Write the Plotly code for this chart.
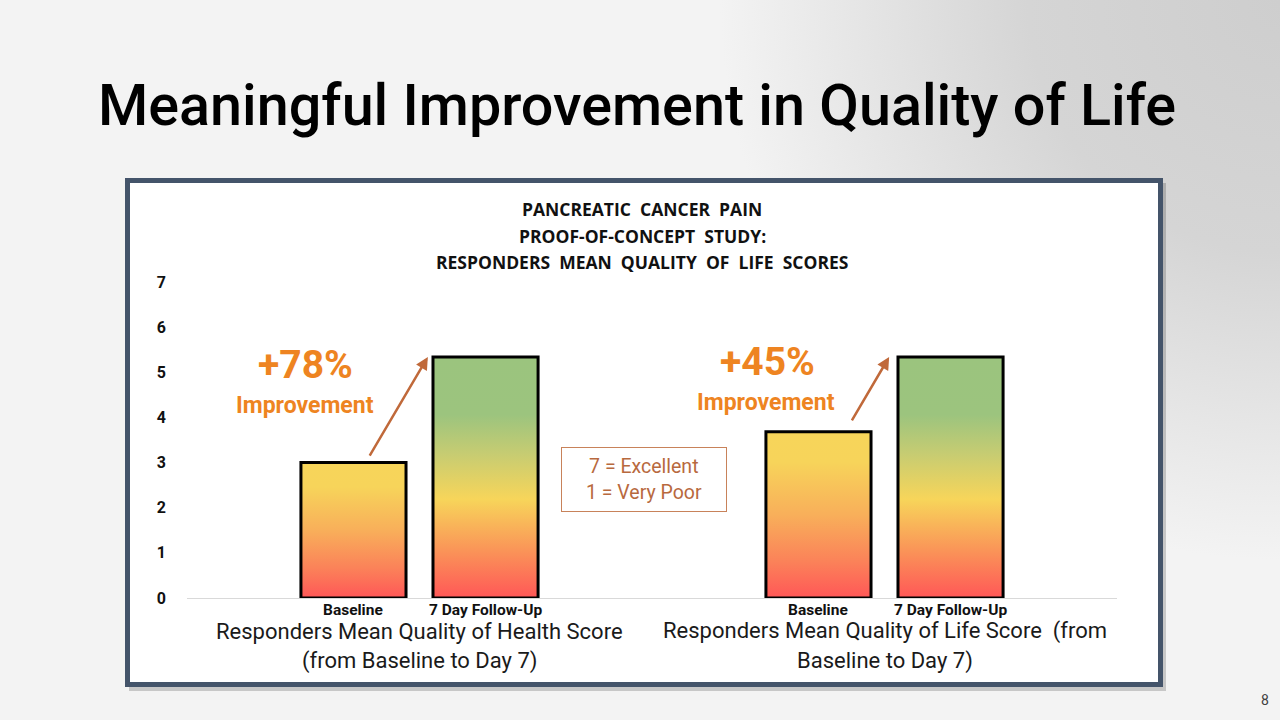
import base64
import plotly.graph_objects as go

# ---------------- data ----------------
slide_title = "Meaningful Improvement in Quality of Life"
chart_title_lines = ["PANCREATIC  CANCER  PAIN", "PROOF-OF-CONCEPT  STUDY:", "RESPONDERS  MEAN  QUALITY  OF  LIFE  SCORES"]
group_label_lines = [
    ["Responders Mean Quality of Health Score", "(from Baseline to Day 7)"],
    ["Responders Mean Quality of Life Score  (from", "Baseline to Day 7)"],
]
timepoints = ["Baseline", "7 Day Follow-Up"]
baseline_scores = [3.0, 3.68]
followup_scores = [5.34, 5.34]
improvement_labels = ["+78%", "+45%"]
improvement_word = "Improvement"
scale_note = ["7 = Excellent", "1 = Very Poor"]
y_ticks = [0, 1, 2, 3, 4, 5, 6, 7]
page_number = "8"

# ---------------- styles ----------------
W, H = 1280, 720
FONT = "Roboto, 'Open Sans', sans-serif"
OPEN = "'Open Sans', Roboto, sans-serif"
ORANGE = "#EE8421"
BROWN = "#C0693A"
BORDER = "#44546A"

cs_base = [[0, "#FF5757"], [0.22, "#FB8259"], [0.5, "#F8AF5A"], [0.82, "#F7D45A"], [1, "#F7D55A"]]
cs_follow = [[0, "#FF5757"], [0.2, "#FA9558"], [0.41, "#F7D55A"], [0.6, "#C6CC72"], [0.76, "#9CC47E"], [1, "#9BC47E"]]

# pixel geometry of plot area
X0, X1 = 187, 1117
Y0PX, Y7PX = 598, 282


def px(x):
    return x / W


def py(y):
    return 1 - y / H


def text_at(fig, x, y, text, font, **kw):
    fig.add_annotation(x=px(x), y=py(y), xref="paper", yref="paper", text=text,
                       showarrow=False, xanchor="center", yanchor="middle", font=font, **kw)


fig = go.Figure()

offset = 0.142
half_w = 0.113
for gi in range(len(group_label_lines)):
    center = gi + 0.5
    for ti, (vals, cs) in enumerate([(baseline_scores, cs_base), (followup_scores, cs_follow)]):
        xc = center + (-offset if ti == 0 else offset)
        v = vals[gi]
        fig.add_trace(go.Scatter(
            x=[xc - half_w, xc + half_w, xc + half_w, xc - half_w, xc - half_w],
            y=[0, 0, v, v, 0],
            mode="lines", fill="toself",
            fillgradient=dict(type="vertical", start=0, stop=v, colorscale=cs),
            line=dict(color="black", width=3),
            hoverinfo="skip", showlegend=False,
        ))
        fig.add_annotation(x=xc, y=0, xref="x", yref="y", text="<b>" + timepoints[ti] + "</b>",
                           showarrow=False, xanchor="center", yanchor="top", yshift=-1,
                           font=dict(family=FONT, size=15.5, color="#111111"))
    # group label lines
    for li, line in enumerate(group_label_lines[gi]):
        fig.add_annotation(x=center, xref="x", y=py(631 + li * 30), yref="paper", text=line,
                           showarrow=False, xanchor="center", yanchor="middle",
                           font=dict(family=FONT, size=22, color="#1a1a1a"))

# improvement labels and arrows
imp_pos = [(305, 365, 305, 405), (767, 362, 766, 402)]
arrows = [((0.391, 3.12), (0.518, 5.34)), ((1.428, 3.90), (1.510, 5.34))]
for i, lab in enumerate(improvement_labels):
    x1, y1, x2, y2 = imp_pos[i]
    text_at(fig, x1, y1, "<b>" + lab + "</b>", dict(family=FONT, size=39, color=ORANGE))
    text_at(fig, x2, y2, "<b>" + improvement_word + "</b>", dict(family=FONT, size=23, color=ORANGE))
    (tx, ty), (hx, hy) = arrows[i]
    fig.add_annotation(x=hx, y=hy, ax=tx, ay=ty, xref="x", yref="y", axref="x", ayref="y",
                       text="", showarrow=True, arrowhead=2, arrowsize=1, arrowwidth=2.5,
                       arrowcolor=BROWN)

# scale note box
text_at(fig, 644, 479.5, "<br>".join(scale_note), dict(family=FONT, size=19.5, color="#B8693E"),
        width=164, height=63, bordercolor="#C8825A", borderwidth=1, borderpad=0, bgcolor="white")

# chart title
for li, line in enumerate(chart_title_lines):
    text_at(fig, 642, 209 + li * 26.5, "<b>" + line + "</b>", dict(family=OPEN, size=17.5, color="#111111"))

# slide title
text_at(fig, 637, 105, slide_title, dict(family=FONT, size=57.5, color="black", weight=500))

# page number
text_at(fig, 1265, 700, page_number, dict(family=FONT, size=14, color="#404040"))

# chart box shadow + box
fig.add_shape(type="rect", xref="paper", yref="paper", layer="below",
              x0=px(129), x1=px(1166), y0=py(183), y1=py(691),
              line=dict(width=0), fillcolor="rgba(0,0,0,0.18)")
fig.add_shape(type="rect", xref="paper", yref="paper", layer="below",
              x0=px(127.5), x1=px(1160.5), y0=py(180.5), y1=py(684.5),
              line=dict(color=BORDER, width=5), fillcolor="white")

# background image (radial grey in top-right)
svg = f'''<svg xmlns="http://www.w3.org/2000/svg" width="{W}" height="{H}" viewBox="0 0 {W} {H}" preserveAspectRatio="none">
<defs><radialGradient id="g" cx="{W}" cy="0" r="560" gradientUnits="userSpaceOnUse">
<stop offset="0" stop-color="#CECECE"/><stop offset="0.45" stop-color="#D5D5D5"/>
<stop offset="1" stop-color="#F3F3F3"/></radialGradient></defs>
<rect width="{W}" height="{H}" fill="#F3F3F3"/>
<rect width="{W}" height="{H}" fill="url(#g)"/></svg>'''
src = "data:image/svg+xml;base64," + base64.b64encode(svg.encode()).decode()
fig.add_layout_image(source=src, xref="paper", yref="paper", x=0, y=1, sizex=1, sizey=1,
                     sizing="stretch", xanchor="left", yanchor="top", layer="below")

fig.update_layout(
    width=W, height=H, margin=dict(l=0, r=0, t=0, b=0, pad=0, autoexpand=False),
    paper_bgcolor="#F3F3F3", plot_bgcolor="rgba(0,0,0,0)",
    showlegend=False,
    xaxis=dict(domain=[px(X0), px(X1)], range=[0, 2], showgrid=False, zeroline=False,
               showticklabels=False, ticks="", showline=True, linecolor="#D9D9D9", linewidth=1,
               fixedrange=True, automargin=False),
    yaxis=dict(domain=[py(Y0PX), py(Y7PX)], range=[0, 7], tickvals=y_ticks,
               ticktext=[f"<b>{t}</b>" for t in y_ticks], showgrid=False, zeroline=False,
               showline=False, ticks="", ticklabelstandoff=20, automargin=False,
               tickfont=dict(family=FONT, size=16, color="#111111"), fixedrange=True),
)

fig.write_html("out.html", config={"displayModeBar": False})
